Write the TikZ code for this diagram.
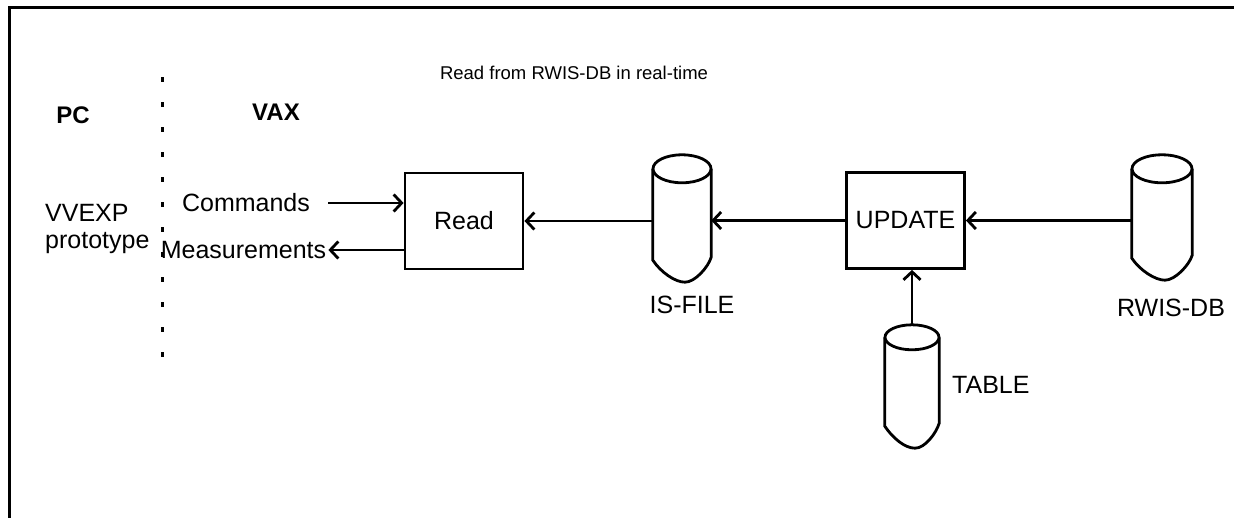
\documentclass[tikz,border=0pt]{standalone}
\usepackage{fontspec}
\setmainfont{Liberation Sans}
\usetikzlibrary{arrows.meta,calc}

\tikzset{
  line/.style={line width=2.8pt},
  flow/.style={line, -{Straight Barb[length=8pt,width=17pt]}},
  lbl/.style={inner sep=2pt, font=\fontsize{25}{30}\selectfont},
  proc/.style={draw, line, minimum width=118pt, minimum height=96pt, inner sep=0pt, font=\fontsize{25}{30}\selectfont},
  drum/.style={inner sep=0pt},
}

% outline of a drum round node #1, top ellipse radii #2, #3
\newcommand{\drumshape}[3]{%
  \draw[line] ($(#1.north west)+(0,#3)$) -- ($(#1.south west)+(0,-22)$)
    .. controls +(8,12) and +(-10,0) .. ($(#1.south)+(3,0)$)
    .. controls +(10,0) and +(-3,10) .. ($(#1.south east)+(0,-25)$)
    -- ($(#1.north east)+(0,#3)$);
  \draw[line, fill=white] ($(#1.north)+(0,#3)$) ellipse [x radius=#2, y radius=#3];
}

\begin{document}
\begin{tikzpicture}[x=1pt, y=-1pt]
  \useasboundingbox (0,0) rectangle (1234,518);
  \draw[line width=3pt] (9,518) -- (9,8) -- (1234,8);

  \node[lbl, font=\fontsize{18.5}{22}\selectfont] (title) at (574,73) {Read from RWIS-DB in real-time};
  \node[lbl, font=\bfseries\fontsize{24}{29}\selectfont] (pc) at (73,115) {PC};
  \node[lbl, font=\bfseries\fontsize{24}{29}\selectfont] (vax) at (276,112) {VAX};
  \draw[line width=3pt, dash pattern=on 5pt off 20pt] (162,77.5) -- (162,358);

  \node[lbl, anchor=west] (vvexp) at (43,213) {VVEXP};
  \node[lbl, anchor=west] (proto) at (43,243) {prototype};
  \node[lbl] (cmd) at (246,203) {Commands};
  \node[lbl] (meas) at (243.5,250) {Measurements};

  \node[proc] (read) at (464,221) {Read};
  \node[proc] (update) at (905.5,220.5) {UPDATE};

  \node[drum, minimum width=58pt, minimum height=127pt] (isfile) at (682,218.5) {};
  \node[drum, minimum width=60pt, minimum height=125pt] (rwisdb) at (1162,217.5) {};
  \node[drum, minimum width=54pt, minimum height=123pt] (table) at (912,386.5) {};
  \drumshape{isfile}{29}{14}
  \drumshape{rwisdb}{30}{14}
  \drumshape{table}{27}{12.5}

  \node[lbl] (isfilelbl) at (692,305) {IS-FILE};
  \node[lbl] (rwisdblbl) at (1171,308) {RWIS-DB};
  \node[lbl, anchor=west] (tablelbl) at (950,385) {TABLE};

  \draw[flow, shorten <=16pt] (cmd.east) -- (cmd.east -| read.west);
  \draw[flow] (meas.east -| read.west) -- (meas.east);
  \draw[flow] (read.east -| isfile.west) -- (read.east);
  \draw[flow] (update.west) -- (update.west -| isfile.east);
  \draw[flow] (update.east -| rwisdb.west) -- (update.east);
  \draw[flow] (table.north) -- (table.north |- update.south);
\end{tikzpicture}
\end{document}
